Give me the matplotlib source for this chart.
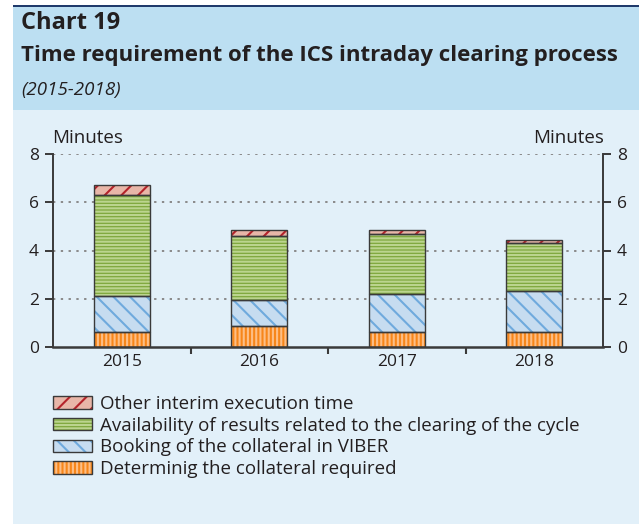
import matplotlib
matplotlib.use("Agg")
import matplotlib.pyplot as plt
from matplotlib.patches import Patch, Rectangle

# data (minutes)
years = ["2015", "2016", "2017", "2018"]
determining = [0.61, 0.85, 0.61, 0.61]
booking = [1.52, 1.08, 1.58, 1.70]
availability = [4.15, 2.68, 2.48, 2.00]
other = [0.43, 0.25, 0.19, 0.14]

labels = ["Determinig the collateral required",
          "Booking of the collateral in VIBER",
          "Availability of results related to the clearing of the cycle",
          "Other interim execution time"]

plt.rcParams['font.family'] = ['Open Sans', 'DejaVu Sans']
plt.rcParams['hatch.linewidth'] = 1.5

# fill colour, hatch colour, hatch pattern
styles = [("#F7861A", "#FDBE85", "||||"),
          ("#C6DCF0", "#6FAADD", "\\\\"),
          ("#7FA83D", "#BBD48E", "-----"),
          ("#E8B6A8", "#B4232B", "//")]
series = [determining, booking, availability, other]
edge = "#3a3a3a"
txt = "#231F20"
W, H = 639, 524

fig = plt.figure(figsize=(6.39, 5.24), dpi=100)
fig.patch.set_facecolor("white")

# panel background, header band + top rule
fig.add_artist(Rectangle((13 / W, 0), 1, 1 - 110 / H, transform=fig.transFigure,
                         facecolor="#E2F0F9", edgecolor="none", zorder=0))
fig.add_artist(Rectangle((13 / W, 1 - 110 / H), 1, 103 / H, transform=fig.transFigure,
                         facecolor="#BCDFF2", edgecolor="none", zorder=0))
fig.add_artist(Rectangle((13 / W, 1 - 7 / H), 1, 2.5 / H, transform=fig.transFigure,
                         facecolor="#1F3A6B", edgecolor="none", zorder=0))
fig.text(21 / W, 1 - 23 / H, "Chart 19", fontsize=17, fontweight="bold", color=txt, va="center")
fig.text(21 / W, 1 - 56 / H, "Time requirement of the ICS intraday clearing process",
         fontsize=16, fontweight="bold", color=txt, va="center")
fig.text(21 / W, 1 - 90 / H, "(2015-2018)", fontsize=13.5, style="italic", color=txt, va="center")

ax = fig.add_axes([53 / W, 1 - 347 / H, 550 / W, 193 / H])
ax.set_facecolor("none")
x = list(range(len(years)))
w = 0.41
bottom = [0.0] * len(years)
for vals, (fc, hc, h) in zip(series, styles):
    ax.bar(x, vals, w, bottom=bottom, color=fc, edgecolor=hc, hatch=h, linewidth=0, zorder=3)
    ax.bar(x, vals, w, bottom=bottom, facecolor="none", edgecolor=edge, linewidth=1.0, zorder=4)
    bottom = [b + v for b, v in zip(bottom, vals)]

ax.set_xlim(-0.5, len(years) - 0.5)
ax.set_ylim(0, 8)
ax.set_yticks([0, 2, 4, 6, 8])
for y in [2, 4, 6, 8]:
    ax.axhline(y, color="#8a8a8a", linestyle=(0, (1.2, 2.8)), linewidth=1.4, zorder=1)

ax.set_xticks([i + 0.5 for i in x[:-1]])
ax.set_xticklabels([])
ax.set_xticks(x, minor=True)
ax.set_xticklabels(years, minor=True, fontsize=12.5, color=txt)
ax.tick_params(axis="x", which="major", direction="out", length=5, width=1.5, color=edge)
ax.tick_params(axis="x", which="minor", length=0, pad=5)
ax.tick_params(axis="y", direction="out", length=6, width=1.4, color=edge, pad=4,
               labelsize=12.5, labelcolor=txt, right=True, labelright=True)

for s in ["left", "right"]:
    ax.spines[s].set_color(edge)
    ax.spines[s].set_linewidth(1.4)
ax.spines["bottom"].set_color(edge)
ax.spines["bottom"].set_linewidth(1.8)
ax.spines["bottom"].set_zorder(5)
ax.spines["top"].set_visible(False)

fig.text(52 / W, 1 - 138 / H, "Minutes", fontsize=13.5, color=txt, va="center")
fig.text(604 / W, 1 - 138 / H, "Minutes", fontsize=13.5, color=txt, va="center", ha="right")

handles = []
for fc, hc, h in styles:
    handles.append((Patch(facecolor=fc, edgecolor=hc, hatch=h, linewidth=0),
                    Patch(facecolor="none", edgecolor=edge, linewidth=1.0)))
handles = handles[::-1]
fig.legend(handles, labels[::-1], loc="upper left", bbox_to_anchor=(53 / W, 1 - 395 / H),
           frameon=False, borderpad=0, borderaxespad=0, fontsize=13.5,
           handlelength=2.1, handleheight=0.65, labelspacing=0.2, handletextpad=0.4,
           labelcolor=txt)

fig.savefig("out.png", dpi=100, facecolor=fig.get_facecolor())
